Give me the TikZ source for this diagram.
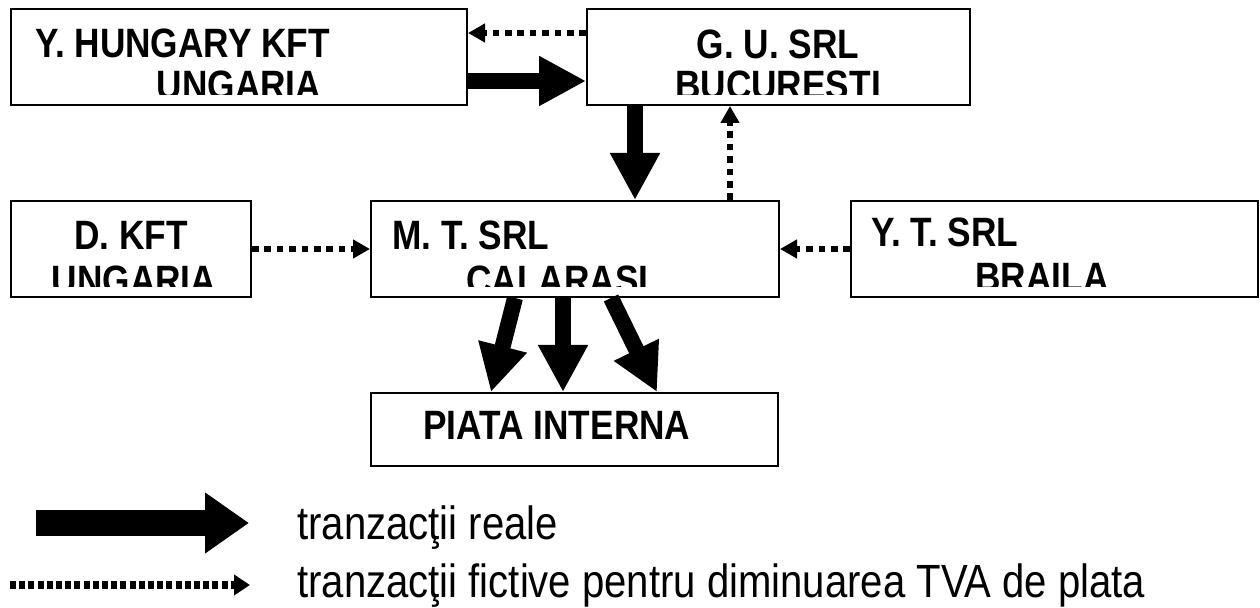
\documentclass[tikz,border=0pt]{standalone}
\usepackage{fontspec}
\setmainfont{Liberation Sans}[FakeStretch=0.86]
\usetikzlibrary{arrows.meta,calc}

\tikzset{
    firm/.style={draw,line width=1pt,inner sep=0pt,minimum height=48pt},
    lbl/.style={inner sep=0pt,font=\fontsize{20.5}{24}\selectfont\bfseries},
    leg/.style={inner sep=0pt,font=\fontsize{23.3}{27}\selectfont},
    real/.style={line width=8pt,-{Triangle[length=23.5pt,width=23.5pt]}},
    fict/.style={line width=3.25pt,dash pattern=on 3.3pt off 2.9pt,-{Triangle[length=8.5pt,width=9pt]}}
}

\begin{document}
\begin{tikzpicture}[x=0.5pt,y=-0.5pt]
        \useasboundingbox (0,0) rectangle (1260,608);
        \node[firm,minimum width=228pt] (hu) at (239,57) {};
        \node[firm,minimum width=191.5pt] (gu) at (778.5,57) {};
        \node[firm,minimum width=120pt] (dk) at (131,249) {};
        \node[firm,minimum width=204pt] (mt) at (575,249) {};
        \node[firm,minimum width=203.5pt] (yt) at (1054.5,249) {};
        \node[firm,minimum width=203.5pt,minimum height=36.5pt] (pi) at (574.5,429.5) {};
        \begin{scope}
            \clip (0,0) rectangle (1260,95);
            \node[lbl,anchor=base west] (hu1) at (35,58) {Y. HUNGARY KFT};
            \node[lbl,anchor=base] (hu2) at (239,100) {UNGARIA};
            \node[lbl,anchor=base] (gu1) at (778,59) {G. U. SRL};
            \node[lbl,anchor=base] (gu2) at (778,100) {BUCURESTI};
        \end{scope}
        \begin{scope}
            \clip (0,150) rectangle (1260,287);
            \node[lbl,anchor=base] (dk1) at (131,250) {D. KFT};
            \node[lbl,anchor=base] (dk2) at (134,295) {UNGARIA};
            \node[lbl,anchor=base west] (mt1) at (392,250) {M. T. SRL};
            \node[lbl,anchor=base west] (mt2) at (466,295) {CALARASI};
            \node[lbl,anchor=base west] (yt1) at (871,247) {Y. T. SRL};
            \node[lbl,anchor=base west] (yt2) at (975,292) {BRAILA};
        \end{scope}
        \node[lbl,anchor=base west] (pi1) at (423,440) {PIATA INTERNA};
        \draw[real] ($(hu.east)+(0,24)$) -- ($(gu.west)+(0,24)$);
        \draw[fict] ($(gu.west)+(0,-24)$) -- ($(hu.east)+(0,-24)$);
        \coordinate (gudown) at ($(gu.south west)+(49,0)$);
        \coordinate (mtup) at ($(mt.north west)+(360,0)$);
        \draw[real] (gudown) -- (gudown |- mt.north);
        \draw[fict] (mtup) -- (mtup |- gu.south);
        \draw[fict] (dk.east) -- (mt.west);
        \draw[fict] (yt.west) -- (mt.east);
        \draw[real] ($(mt.south west)+(145,0)$) -- ($(pi.north west)+(121,0)$);
        \draw[real] ($(mt.south west)+(193,0)$) -- ($(pi.north west)+(193,0)$);
        \draw[real] ($(mt.south west)+(241,0)$) -- ($(pi.north west)+(287,0)$);
        \coordinate (r0) at (36,523);
        \coordinate (r1) at (249,523);
        \draw[line width=13pt,-{Triangle[length=22pt,width=29pt]}] (r0) -- (r1);
        \node[leg,anchor=base west] (lr) at (297,540) {tranzacţii reale};
        \coordinate (d0) at (10,585);
        \coordinate (d1) at (250,585);
        \draw[line width=4pt,dash pattern=on 3pt off 1.6pt,-{Triangle[length=8pt,width=10pt]}] (d0) -- (d1);
        \node[leg,anchor=base west] (lf) at (297,598) {tranzacţii fictive pentru diminuarea TVA de plata};
\end{tikzpicture}
\end{document}
